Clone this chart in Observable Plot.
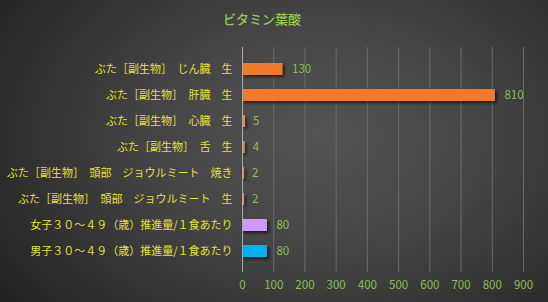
<!DOCTYPE html>
<html><head><meta charset="utf-8">
<script src="https://cdn.jsdelivr.net/npm/d3@7"></script>
<script src="https://cdn.jsdelivr.net/npm/@observablehq/plot@0.6"></script>
<style>
html,body{margin:0;padding:0;background:#2a2a2a;}
#wrap{position:relative;width:548px;height:302px;overflow:hidden;
background:radial-gradient(ellipse 70% 90% at 58% 45%, #545454 0%, #444 45%, #232323 100%);
font-family:"Noto Sans CJK JP","Noto Sans",sans-serif;}
#title{position:absolute;left:0;width:524px;top:9px;text-align:center;color:#92c84e;font-size:13px;font-weight:500;}
#chart{position:absolute;left:0;top:0;}
</style></head>
<body><div id="wrap"><div id="title">ビタミン葉酸</div><div id="chart"></div></div>
<script>
const categories = [
  "ぶた［副生物］　じん臓　生",
  "ぶた［副生物］　肝臓　生",
  "ぶた［副生物］　心臓　生",
  "ぶた［副生物］　舌　生",
  "ぶた［副生物］　頭部　ジョウルミート　焼き",
  "ぶた［副生物］　頭部　ジョウルミート　生",
  "女子３０～４９（歳）推進量/１食あたり",
  "男子３０～４９（歳）推進量/１食あたり"
];
const values = [130, 810, 5, 4, 2, 2, 80, 80];
const colors = ["#f07a2c","#f07a2c","#e0895a","#e0895a","#e0895a","#e0895a","#cc99ff","#00b0f0"];
const xTicks = [0,100,200,300,400,500,600,700,800,900];

const data = categories.map((c,i)=>({name:c, value:values[i], color:colors[i]}));
const big = data.filter(d => d.value >= 10);
const small = data.filter(d => d.value < 10);

const chart = Plot.plot({
  width: 548, height: 302,
  marginTop: 47, marginBottom: 30, marginLeft: 242, marginRight: 25,
  style: {background: "transparent", fontFamily: "'Noto Sans CJK JP', sans-serif", fontSize: "11px"},
  x: {domain: [0, 900], ticks: xTicks, label: null, tickSize: 0, tickPadding: 8},
  y: {domain: categories, padding: 0.54, label: null, tickSize: 0, tickPadding: 10},
  marks: [
    Plot.gridX(xTicks.filter(d=>d>0), {stroke: "#6a6a6a", strokeOpacity: 1, strokeWidth: 1}),
    Plot.barX(big, {x: "value", y: "name", fill: "color"}),
    Plot.barX(small, {x: "value", y: "name", fill: "color", insetRight: -1.5}),
    Plot.ruleX([0], {stroke: "#a8a8a8", strokeWidth: 1}),
    Plot.text(data, {x: "value", y: "name", text: d => String(d.value), textAnchor: "start", dx: 9, fill: "#8fbf55", fontSize: 11.5}),
    Plot.axisX({ticks: xTicks, tickSize: 0, tickPadding: 8, fill: "#8fbf55", label: null, fontSize: 11.5}),
    Plot.axisY({tickSize: 0, tickPadding: 10, fill: "#e6e236", label: null})
  ]
});
d3.select(chart).selectAll("g[aria-label='bar'] rect").style("filter","drop-shadow(2px 2px 1.5px rgba(0,0,0,0.6))");
document.getElementById("chart").appendChild(chart);
</script></body></html>
